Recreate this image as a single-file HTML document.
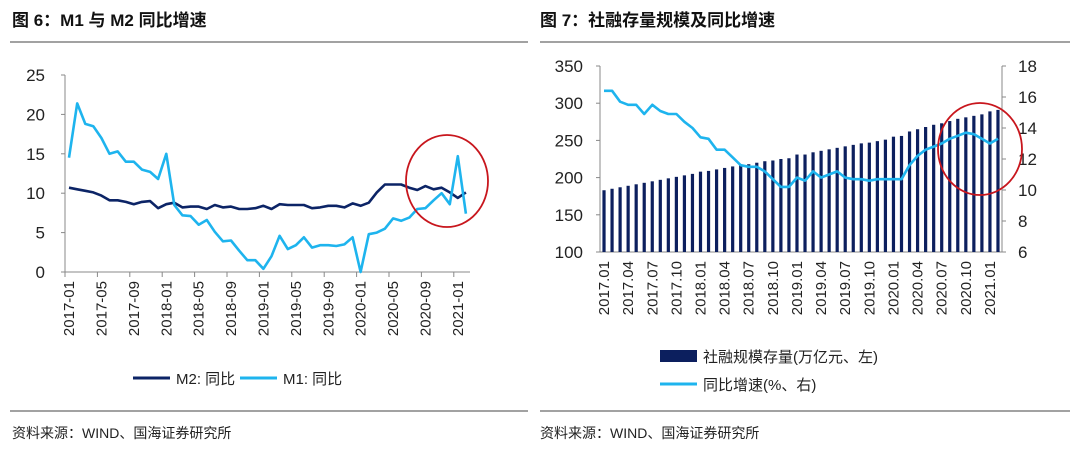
<!DOCTYPE html>
<html><head><meta charset="utf-8"><style>
body{margin:0;background:#fff;}
svg{display:block;font-family:"Liberation Sans","Noto Sans CJK SC",sans-serif;}
</style></head><body>
<svg id="c" width="1080" height="453" xmlns="http://www.w3.org/2000/svg">
<text x="12" y="26" font-size="17" font-weight="bold" fill="#111">图 6：M1 与 M2 同比增速</text>
<text x="540" y="26" font-size="17" font-weight="bold" fill="#111">图 7：社融存量规模及同比增速</text>
<line x1="10" y1="42" x2="528" y2="42" stroke="#444"/>
<line x1="540" y1="42" x2="1070" y2="42" stroke="#444"/>
<line x1="10" y1="411" x2="528" y2="411" stroke="#444"/>
<line x1="540" y1="411" x2="1070" y2="411" stroke="#444"/>
<text x="12" y="438" font-size="14" fill="#222">资料来源：WIND、国海证券研究所</text>
<text x="540" y="438" font-size="14" fill="#222">资料来源：WIND、国海证券研究所</text>
<g id="L"></g><g id="R"></g>
</svg>
<script>
const months=[];for(let y=2017;y<=2021;y++)for(let m=1;m<=12;m++){if(y===2021&&m>2)break;months.push([y,m]);}
const m2=[10.7,10.5,10.3,10.1,9.7,9.1,9.1,8.9,8.6,8.9,9.0,8.1,8.6,8.8,8.2,8.3,8.3,8.0,8.5,8.2,8.3,8.0,8.0,8.1,8.4,8.0,8.6,8.5,8.5,8.5,8.1,8.2,8.4,8.4,8.2,8.7,8.4,8.8,10.1,11.1,11.1,11.1,10.7,10.4,10.9,10.5,10.7,10.1,9.4,10.1];
const m1=[14.5,21.4,18.8,18.5,17.0,15.0,15.3,14.0,14.0,13.0,12.7,11.8,15.0,8.5,7.2,7.1,6.0,6.6,5.1,3.9,4.0,2.7,1.5,1.5,0.4,2.0,4.6,2.9,3.4,4.4,3.1,3.4,3.4,3.3,3.5,4.4,0.0,4.8,5.0,5.5,6.8,6.5,6.9,8.0,8.1,9.1,10.0,8.6,14.7,7.4];
const tsfStock=[183,185,187,189,191,193,195,197,199,201,203,205,208,209,211,213,215,217,218,220,222,223,225,226,231,231,234,236,238,240,242,244,246,247,249,251,255,256,262,265,268,271,273,276,279,281,283,285,289,291];
const tsfGrowth=[16.4,16.4,15.7,15.5,15.5,14.9,15.5,15.1,14.9,14.9,14.4,14.0,13.4,13.3,12.6,12.6,12.1,11.6,11.5,11.5,11.2,10.7,10.2,10.2,10.8,10.6,11.2,10.8,11.0,11.2,10.8,10.7,10.7,10.6,10.7,10.7,10.7,10.7,11.6,12.2,12.6,12.8,13.0,13.3,13.5,13.7,13.6,13.3,13.0,13.3];
const leftTicks=[0,5,10,15,20,25], rTicksL=[100,150,200,250,300,350], rTicksR=[6,8,10,12,14,16,18];
const NS="http://www.w3.org/2000/svg";
function el(p,t,a,txt){const e=document.createElementNS(NS,t);for(const k in a)e.setAttribute(k,a[k]);if(txt!==undefined)e.textContent=txt;p.appendChild(e);return e;}
const pad=n=>String(n).padStart(2,'0');
// LEFT
const L=document.getElementById('L');
const lx0=65,lx1=470,ly0=272,ly1=75,n=months.length,lw=(lx1-lx0)/n;
const lX=i=>lx0+lw*(i+0.5), lY=v=>ly0-(v/25)*(ly0-ly1);
leftTicks.forEach(v=>{const t=el(L,'text',{x:45,y:lY(v)+6,'font-size':17,'text-anchor':'end',fill:'#222'},v);


const tk=el(L,'line',{x1:lx0-4,x2:lx0,y1:lY(v),y2:lY(v),stroke:'#888'});

});
const la=el(L,'path',{d:`M${lx0},${ly1}V${ly0}H${lx1}`,fill:'none',stroke:'#888'});


for(let i=0;i<n;i+=4){const x=lx0+lw*i;
const tk=el(L,'line',{x1:x,x2:x,y1:ly0,y2:ly0+5,stroke:'#888'});


const [y,m]=months[i];const t=el(L,'text',{transform:`translate(${lX(i)+5},${ly0+9}) rotate(-90)`,'font-size':15,'text-anchor':'end',fill:'#222'},`${y}-${pad(m)}`);

}
function line(p,data,X,Y,col,w,name){const d=data.map((v,i)=>(i?'L':'M')+X(i).toFixed(1)+','+Y(v).toFixed(1)).join('');const e=el(p,'path',{d,fill:'none',stroke:col,'stroke-width':w,'stroke-linejoin':'round'});

}
line(L,m2,lX,lY,'#0c2466',2.6,'m2-line');
line(L,m1,lX,lY,'#1eb4ee',2.6,'m1-line');
const c1=el(L,'ellipse',{cx:447,cy:181,rx:41,ry:46,fill:'none',stroke:'#c8161d','stroke-width':1.8});


const lg1=el(L,'line',{x1:133,x2:170,y1:378,y2:378,stroke:'#0c2466','stroke-width':3});


const lt1=el(L,'text',{x:176,y:384,'font-size':15,fill:'#222'},'M2: 同比');


const lg2=el(L,'line',{x1:240,x2:277,y1:378,y2:378,stroke:'#1eb4ee','stroke-width':3});


const lt2=el(L,'text',{x:283,y:384,'font-size':15,fill:'#222'},'M1: 同比');


// RIGHT
const R=document.getElementById('R');
const rx0=600,rx1=1002,ry0=252,ry1=66,rw=(rx1-rx0)/n;
const rX=i=>rx0+rw*(i+0.5), rYL=v=>ry0-(v-100)/250*(ry0-ry1), rYR=v=>ry0-(v-6)/12*(ry0-ry1);
rTicksL.forEach(v=>{const t=el(R,'text',{x:583,y:rYL(v)+6,'font-size':17,'text-anchor':'end',fill:'#222'},v);


const tk=el(R,'line',{x1:rx0-4,x2:rx0,y1:rYL(v),y2:rYL(v),stroke:'#888'});

});
rTicksR.forEach(v=>{const t=el(R,'text',{x:1018,y:rYR(v)+6,'font-size':17,fill:'#222'},v);


const tk=el(R,'line',{x1:rx1,x2:rx1+4,y1:rYR(v),y2:rYR(v),stroke:'#888'});

});
const ra=el(R,'path',{d:`M${rx0},${ry1}V${ry0}H${rx1}V${ry1}`,fill:'none',stroke:'#888'});


tsfStock.forEach((v,i)=>{const b=el(R,'rect',{x:rX(i)-1.6,y:rYL(v),width:3.2,height:ry0-rYL(v),fill:'#0c1f5e'});

});
for(let i=0;i<n;i+=3){const [y,m]=months[i];const t=el(R,'text',{transform:`translate(${rX(i)+5},${ry0+9}) rotate(-90)`,'font-size':15,'text-anchor':'end',fill:'#222'},`${y}.${pad(m)}`);

}
line(R,tsfGrowth,rX,rYR,'#1eb4ee',2.6,'tsf-growth-line');
const c2=el(R,'ellipse',{cx:980,cy:149,rx:42,ry:46,fill:'none',stroke:'#c8161d','stroke-width':1.8});


const rg1=el(R,'rect',{x:660,y:350,width:37,height:12,fill:'#0c1f5e'});


const rt1=el(R,'text',{x:703,y:362,'font-size':15,fill:'#222'},'社融规模存量(万亿元、左)');


const rg2=el(R,'line',{x1:660,x2:697,y1:384,y2:384,stroke:'#1eb4ee','stroke-width':3});


const rt2=el(R,'text',{x:703,y:390,'font-size':15,fill:'#222'},'同比增速(%、右)');


</script>
</body></html>
